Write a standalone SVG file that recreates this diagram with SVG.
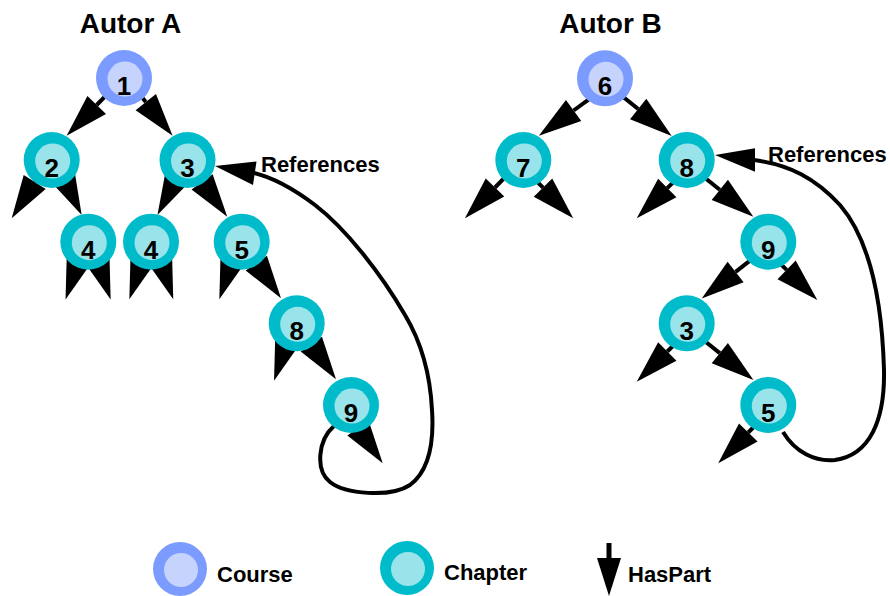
<svg xmlns="http://www.w3.org/2000/svg" width="890" height="596" viewBox="0 0 890 596">
  <defs>
    <style>
      .ring-course { fill: #7b9bff; }
      .core-course { fill: #c6d3fc; }
      .ring-chapter { fill: #00bccb; }
      .core-chapter { fill: #99e4ea; }
      .num { font-family: "Liberation Sans", Arial, sans-serif; font-weight: bold; font-size: 26px; text-anchor: middle; fill: #000; }
      .title { font-family: "Liberation Sans", Arial, sans-serif; font-weight: bold; font-size: 28px; text-anchor: middle; fill: #000; }
      .label { font-family: "Liberation Sans", Arial, sans-serif; font-weight: bold; font-size: 22px; fill: #000; }
      .haspart { stroke: #000; stroke-width: 4; fill: none; marker-end: url(#head); }
      .ref { stroke: #000; stroke-width: 4; fill: none; }
    </style>
    <!-- big HasPart arrowhead: base sits on the line end, tip 43px ahead -->
    <marker id="head" markerUnits="userSpaceOnUse" markerWidth="44" markerHeight="26" refX="0" refY="13" orient="auto" overflow="visible">
      <path d="M0,0 L43,13 L0,26 z" fill="#000"/>
    </marker>
  </defs>

  <rect width="890" height="596" fill="#fff"/>

  <text class="title" x="130.5" y="33">Autor A</text>
  <text class="title" x="610.5" y="33">Autor B</text>

  <g id="connectors">
    <!-- Autor A: HasPart -->
    <line class="haspart" x1="115.6" y1="85.7" x2="96.7" y2="105.0"/>
    <line class="haspart" x1="129.0" y1="81.0" x2="145.8" y2="102.1"/>
    <line class="haspart" x1="49.2" y1="159.1" x2="34.7" y2="182.0"/>
    <line class="haspart" x1="51.0" y1="152.1" x2="62.8" y2="176.3"/>
    <line class="haspart" x1="189.6" y1="152.9" x2="177.2" y2="176.9"/>
    <line class="haspart" x1="186.3" y1="160.0" x2="202.1" y2="181.9"/>
    <line class="haspart" x1="87.6" y1="233.1" x2="79.1" y2="258.7"/>
    <line class="haspart" x1="88.6" y1="233.1" x2="97.1" y2="258.7"/>
    <line class="haspart" x1="151.4" y1="232.9" x2="142.9" y2="258.5"/>
    <line class="haspart" x1="151.2" y1="232.9" x2="159.7" y2="258.5"/>
    <line class="haspart" x1="241.4" y1="232.9" x2="232.9" y2="258.5"/>
    <line class="haspart" x1="240.8" y1="241.0" x2="256.3" y2="263.1"/>
    <line class="haspart" x1="296.1" y1="314.3" x2="287.6" y2="339.9"/>
    <line class="haspart" x1="295.8" y1="322.0" x2="311.3" y2="344.1"/>
    <line class="haspart" x1="342.5" y1="406.0" x2="358.0" y2="428.1"/>

    <!-- Autor A: References 9 -> 3 -->
    <path class="ref" d="M334,426 C318,440 315,470 330,482 C345,494 390,498 410,485 C430,470 434,440 432,410 C430,370 420,340 405,315 C380,272 345,228 315,205 C295,190 275,178 254,173"/>
    <polygon points="215,166 256.5,161.5 253,185" fill="#000"/>

    <!-- Autor B: HasPart -->
    <line class="haspart" x1="595.4" y1="94.6" x2="573.6" y2="110.5"/>
    <line class="haspart" x1="617.2" y1="92.1" x2="638.2" y2="109.0"/>
    <line class="haspart" x1="513.9" y1="168.2" x2="495.0" y2="187.5"/>
    <line class="haspart" x1="524.0" y1="168.5" x2="543.0" y2="187.7"/>
    <line class="haspart" x1="686.5" y1="169.1" x2="667.3" y2="188.1"/>
    <line class="haspart" x1="698.7" y1="172.9" x2="719.8" y2="189.8"/>
    <line class="haspart" x1="756.9" y1="255.2" x2="735.6" y2="271.9"/>
    <line class="haspart" x1="767.3" y1="251.0" x2="786.6" y2="269.9"/>
    <line class="haspart" x1="686.5" y1="332.5" x2="667.3" y2="351.5"/>
    <line class="haspart" x1="698.7" y1="336.3" x2="719.8" y2="353.1"/>
    <line class="haspart" x1="767.2" y1="413.2" x2="748.3" y2="432.5"/>

    <!-- Autor B: References 5 -> 8 -->
    <path class="ref" d="M783,432 C795,452 815,462 835,460 C870,455 885,420 884,370 C882,300 870,240 840,205 C815,178 790,165 754,160"/>
    <polygon points="715,155 755,148.3 755,171.7" fill="#000"/>
  </g>

  <text class="label" x="261" y="171.5">References</text>
  <text class="label" x="768" y="161.5">References</text>

  <!-- Autor A nodes -->
  <g id="a-1"><circle class="ring-course" cx="124" cy="78" r="28"/><circle class="core-course" cx="125" cy="79" r="17.5"/><text class="num" x="124" y="95">1</text></g>
  <g id="a-2"><circle class="ring-chapter" cx="51.7" cy="160" r="28"/><circle class="core-chapter" cx="52.7" cy="161" r="17.5"/><text class="num" x="51.7" y="177">2</text></g>
  <g id="a-3"><circle class="ring-chapter" cx="187.5" cy="160" r="28"/><circle class="core-chapter" cx="188.5" cy="161" r="17.5"/><text class="num" x="187.5" y="177">3</text></g>
  <g id="a-4a"><circle class="ring-chapter" cx="88.3" cy="241.7" r="28"/><circle class="core-chapter" cx="89.3" cy="242.7" r="17.5"/><text class="num" x="88.3" y="258.7">4</text></g>
  <g id="a-4b"><circle class="ring-chapter" cx="151" cy="241.7" r="28"/><circle class="core-chapter" cx="152" cy="242.7" r="17.5"/><text class="num" x="151" y="258.7">4</text></g>
  <g id="a-5"><circle class="ring-chapter" cx="241.7" cy="241.7" r="28"/><circle class="core-chapter" cx="242.7" cy="242.7" r="17.5"/><text class="num" x="241.7" y="258.7">5</text></g>
  <g id="a-8"><circle class="ring-chapter" cx="296.7" cy="323.3" r="28"/><circle class="core-chapter" cx="297.7" cy="324.3" r="17.5"/><text class="num" x="296.7" y="340.3">8</text></g>
  <g id="a-9"><circle class="ring-chapter" cx="351" cy="405" r="28"/><circle class="core-chapter" cx="352" cy="406" r="17.5"/><text class="num" x="351" y="422">9</text></g>

  <!-- Autor B nodes -->
  <g id="b-6"><circle class="ring-course" cx="605" cy="78.3" r="28"/><circle class="core-course" cx="606" cy="79.3" r="17.5"/><text class="num" x="605" y="95.3">6</text></g>
  <g id="b-7"><circle class="ring-chapter" cx="523.3" cy="160" r="28"/><circle class="core-chapter" cx="524.3" cy="161" r="17.5"/><text class="num" x="523.3" y="177">7</text></g>
  <g id="b-8"><circle class="ring-chapter" cx="686.7" cy="160" r="28"/><circle class="core-chapter" cx="687.7" cy="161" r="17.5"/><text class="num" x="686.7" y="177">8</text></g>
  <g id="b-9"><circle class="ring-chapter" cx="768.3" cy="241.7" r="28"/><circle class="core-chapter" cx="769.3" cy="242.7" r="17.5"/><text class="num" x="768.3" y="258.7">9</text></g>
  <g id="b-3"><circle class="ring-chapter" cx="686.7" cy="323.3" r="28"/><circle class="core-chapter" cx="687.7" cy="324.3" r="17.5"/><text class="num" x="686.7" y="340.3">3</text></g>
  <g id="b-5"><circle class="ring-chapter" cx="768.3" cy="405" r="28"/><circle class="core-chapter" cx="769.3" cy="406" r="17.5"/><text class="num" x="768.3" y="422">5</text></g>

  <!-- legend -->
  <g id="legend-course"><circle class="ring-course" cx="180" cy="569" r="27"/><circle class="core-course" cx="181" cy="570" r="17"/><text class="label" x="217" y="582">Course</text></g>
  <g id="legend-chapter"><circle class="ring-chapter" cx="407" cy="568" r="27"/><circle class="core-chapter" cx="408" cy="569" r="17"/><text class="label" x="444" y="580">Chapter</text></g>
  <g id="legend-haspart">
    <rect x="606.5" y="543" width="5" height="16" fill="#000"/>
    <polygon points="597,558 621,558 609,596" fill="#000"/>
    <text class="label" x="628" y="582">HasPart</text>
  </g>
</svg>
